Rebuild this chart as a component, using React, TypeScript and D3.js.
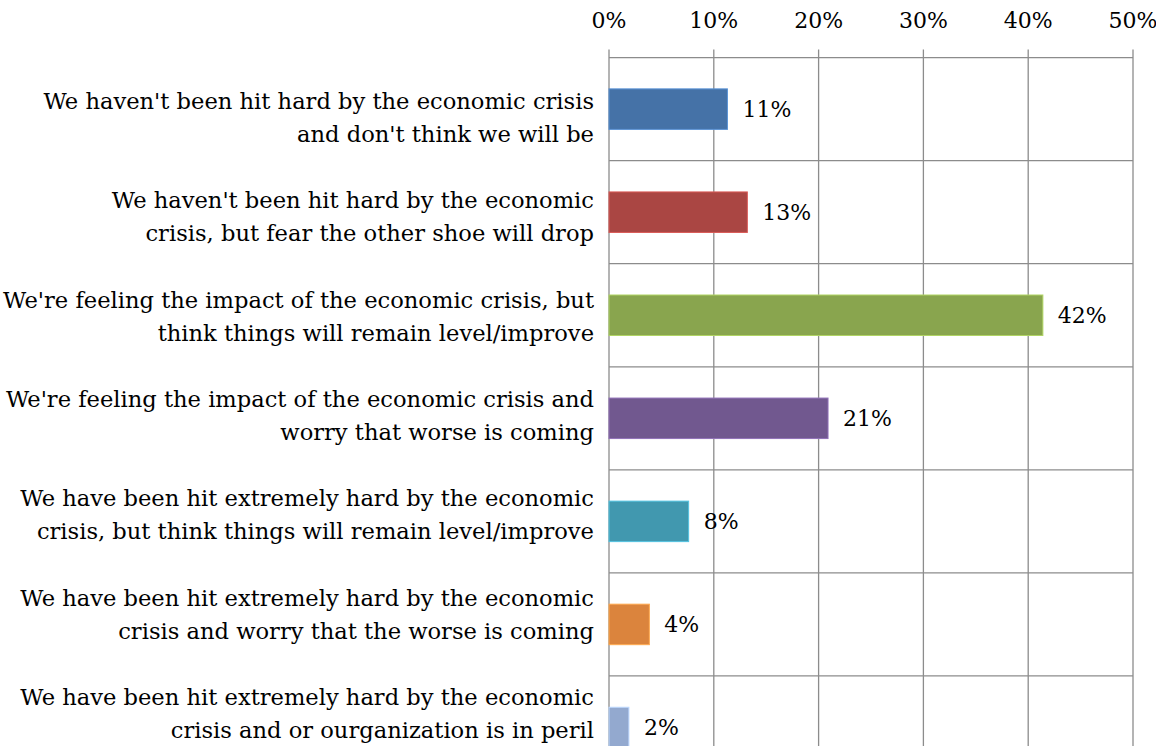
import React from "react";
import * as d3 from "d3";

const categories: string[][] = [
  ["We haven't been hit hard by the economic crisis", "and don't think we will be"],
  ["We haven't been hit hard by the economic", "crisis, but fear the other shoe will drop"],
  ["We're feeling the impact of the economic crisis, but", "think things will remain level/improve"],
  ["We're feeling the impact of the economic crisis and", "worry that worse is coming"],
  ["We have been hit extremely hard by the economic", "crisis, but think things will remain level/improve"],
  ["We have been hit extremely hard by the economic", "crisis and worry that the worse is coming"],
  ["We have been hit extremely hard by the economic", "crisis and or ourganization is in peril"],
];
const values: number[] = [11.3, 13.2, 41.4, 20.9, 7.6, 3.85, 1.9];
const valueLabels: string[] = ["11%", "13%", "42%", "21%", "8%", "4%", "2%"];
const colors: string[] = ["#4572A7", "#AA4643", "#89A54E", "#71588F", "#4198AF", "#DB843D", "#93A9CF"];
const tickValues: number[] = [0, 10, 20, 30, 40, 50];
const tickLabels: string[] = ["0%", "10%", "20%", "30%", "40%", "50%"];

const W = 1156;
const H = 746;
const FONT = "'DejaVu Serif', serif";

export default function App() {
  const x = d3.scaleLinear().domain([0, 50]).range([609, 1133]);
  const ids = categories.map((_, i) => String(i));
  const y = d3.scaleBand().domain(ids).range([57.6, 57.6 + 103.06 * categories.length]).paddingInner(0).paddingOuter(0);
  const bw = y.bandwidth();
  const barH = bw * 0.393;
  const gridColor = "#8c8c8c";
  // category label text blocks are spread slightly tighter than the bands
  const yLabel = d3.scalePoint().domain(ids).range([109, 705]);

  return (
    <svg width={W} height={H} style={{ position: "absolute", left: 0, top: 0, background: "#fff" }}>
      {tickValues.map((t) => (
        <line key={"vg" + t} x1={x(t)} x2={x(t)} y1={49.5} y2={H} stroke={gridColor} strokeWidth={1.3} />
      ))}
      {ids.map((id) => (
        <line key={"hg" + id} x1={x(0)} x2={x(50)} y1={(y(id) as number) + bw} y2={(y(id) as number) + bw} stroke={gridColor} strokeWidth={1.3} />
      ))}
      <line x1={x(0)} x2={x(50)} y1={57.6} y2={57.6} stroke={gridColor} strokeWidth={1.3} />
      {tickValues.map((t, i) => (
        <text key={"tl" + t} x={x(t)} y={28} textAnchor="middle" fontFamily={FONT} fontSize={22} fill="#000">
          {tickLabels[i]}
        </text>
      ))}
      {values.map((v, i) => {
        const cy = (y(ids[i]) as number) + bw / 2;
        return (
          <g key={"b" + i}>
            <rect
              x={x(0)}
              y={cy - barH / 2}
              width={x(v) - x(0)}
              height={barH}
              fill={colors[i]}
              stroke={d3.color(colors[i])!.brighter(0.7).toString()}
              strokeWidth={1}
            />
            <text x={x(v) + 15} y={cy + 8} fontFamily={FONT} fontSize={22} fill="#000">
              {valueLabels[i]}
            </text>
          </g>
        );
      })}
      {categories.map((lines, i) => {
        const base = yLabel(ids[i]) as number;
        return (
          <text key={"c" + i} x={594} fontFamily={FONT} fontSize={22.6} textAnchor="end" fill="#000">
            {lines.map((ln, j) => (
              <tspan key={j} x={594} y={base + j * 33}>
                {ln}
              </tspan>
            ))}
          </text>
        );
      })}
    </svg>
  );
}
